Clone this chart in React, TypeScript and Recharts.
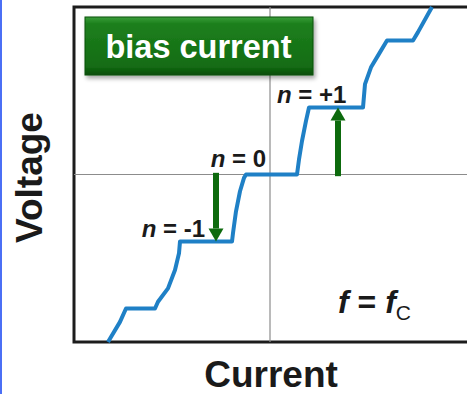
import React from 'react'
import { LineChart, Line, XAxis, YAxis, ReferenceLine, ReferenceArea, ReferenceDot } from 'recharts'

// I-V curve with Shapiro steps (arbitrary units, origin at the crosshair)
const currentVals = [
  -4.05, -3.75, -3.6, -2.875, -2.8, -2.55, -2.375, -2.275, -2.25,
  -0.95, -0.925, -0.85, -0.75, -0.65, -0.6,
  0.675, 0.725, 0.8, 0.9, 0.975,
  2.325, 2.375, 2.525, 2.725, 2.925,
  3.575, 3.7, 4.05,
]
const voltageVals = [
  -5, -4.4, -4, -4, -3.8, -3.4, -2.85, -2.35, -2,
  -2, -1.75, -1.1, -0.5, -0.1, 0,
  0, 0.45, 1.0, 1.6, 2,
  2, 2.7, 3.2, 3.6, 4,
  4, 4.25, 5,
]
const ivData = currentVals.map((c, i) => ({ current: c, voltage: voltageVals[i] }))

const stepLabels = [
  { n: '0', x: -0.1, y: 0.22, anchor: 'end' },
  { n: '+1', x: 0.175, y: 2.13, anchor: 'start' },
  { n: '-1', x: -1.625, y: -1.87, anchor: 'end' },
]
const arrows = [
  { x: -1.35, from: 0.05, to: -2.0 },
  { x: 1.7, from: -0.05, to: 2.0 },
]

const xDomain = [-4.9, 5]
const yDomain = [-5, 5]
const font = '"Liberation Sans", Arial, sans-serif'
const green = '#0d6a0d'

const Arrow = (p: any) => {
  const { x1, y1, x2, y2 } = p
  const dir = y2 > y1 ? 1 : -1
  const head = 13
  const baseY = y2 - dir * head
  return (
    <g>
      <rect x={x1 - 3} y={Math.min(y1, baseY)} width={6} height={Math.abs(baseY - y1)} fill={green} />
      <polygon points={`${x2 - 7.5},${baseY} ${x2 + 7.5},${baseY} ${x2},${y2}`} fill={green} />
    </g>
  )
}

const StepLabel = (text: string, anchor: string) => (p: any) => (
  <text x={p.cx} y={p.cy} textAnchor={anchor} fontFamily={font} fontWeight="bold" fontSize={24} fill="#1a1a1a">
    <tspan fontStyle="italic">n</tspan>
    <tspan>{` = ${text}`}</tspan>
  </text>
)

const FreqLabel = (p: any) => (
  <text x={p.cx} y={p.cy} fontFamily={font} fontWeight="bold" fontSize={32} fill="#1a1a1a">
    <tspan fontStyle="italic">f</tspan>
    <tspan>{' = '}</tspan>
    <tspan fontStyle="italic">f</tspan>
    <tspan fontSize={21} fontWeight="normal" dy={7}>C</tspan>
  </text>
)

export default function App() {
  return (
    <div style={{ position: 'absolute', left: 0, top: 0, width: 467, height: 394, overflow: 'hidden', background: '#fff' }}>
      <LineChart width={480} height={394} data={ivData} margin={{ top: 7, right: 10, bottom: 52, left: 74 }}>
        <XAxis type="number" dataKey="current" domain={xDomain} hide />
        <YAxis type="number" dataKey="voltage" domain={yDomain} hide />
        <ReferenceLine x={0} stroke="#8c8c8c" strokeWidth={1.2} />
        <ReferenceLine y={0} stroke="#8c8c8c" strokeWidth={1.2} />
        <ReferenceArea x1={xDomain[0]} x2={xDomain[1]} y1={yDomain[0]} y2={yDomain[1]} fill="none" stroke="#1c1c1c" strokeWidth={3} />
        <Line type="linear" dataKey="voltage" stroke="#1f80c6" strokeWidth={4} dot={false} strokeLinejoin="round" isAnimationActive={false} />
        {arrows.map((a, i) => (
          <ReferenceLine key={i} segment={[{ x: a.x, y: a.from }, { x: a.x, y: a.to }]} shape={Arrow} />
        ))}
        {stepLabels.map((s) => (
          <ReferenceDot key={s.n} x={s.x} y={s.y} r={0} shape={StepLabel(s.n, s.anchor)} />
        ))}
        <ReferenceDot x={1.7} y={-4.13} r={0} shape={FreqLabel} />
      </LineChart>
      <svg width={467} height={394} style={{ position: 'absolute', left: 0, top: 0, pointerEvents: 'none' }}>
        <defs>
          <linearGradient id="btn" x1="0" y1="0" x2="0" y2="1">
            <stop offset="0" stopColor="#3a9e3a" />
            <stop offset="0.12" stopColor="#1d7f1d" />
            <stop offset="0.85" stopColor="#136c13" />
            <stop offset="1" stopColor="#0a4e0a" />
          </linearGradient>
          <filter id="sh" x="-10%" y="-10%" width="130%" height="140%">
            <feDropShadow dx="2" dy="3" stdDeviation="2" floodOpacity="0.35" />
          </filter>
        </defs>
        <rect x={0} y={0} width={2} height={394} fill="#4b6ff5" />
        <rect x={85} y={17} width={228} height={58} fill="url(#btn)" stroke="#0b500b" strokeWidth={1} filter="url(#sh)" />
        <text x={198.5} y={58} textAnchor="middle" fontFamily={font} fontWeight="bold" fontSize={32.5} fill="#fff">bias current</text>
        <text x={42} y={177.5} transform="rotate(-90 42 177.5)" textAnchor="middle" fontFamily={font} fontWeight="bold" fontSize={37} fill="#1a1a1a">Voltage</text>
        <text x={271} y={387} textAnchor="middle" fontFamily={font} fontWeight="bold" fontSize={37} fill="#1a1a1a">Current</text>
      </svg>
    </div>
  )
}
